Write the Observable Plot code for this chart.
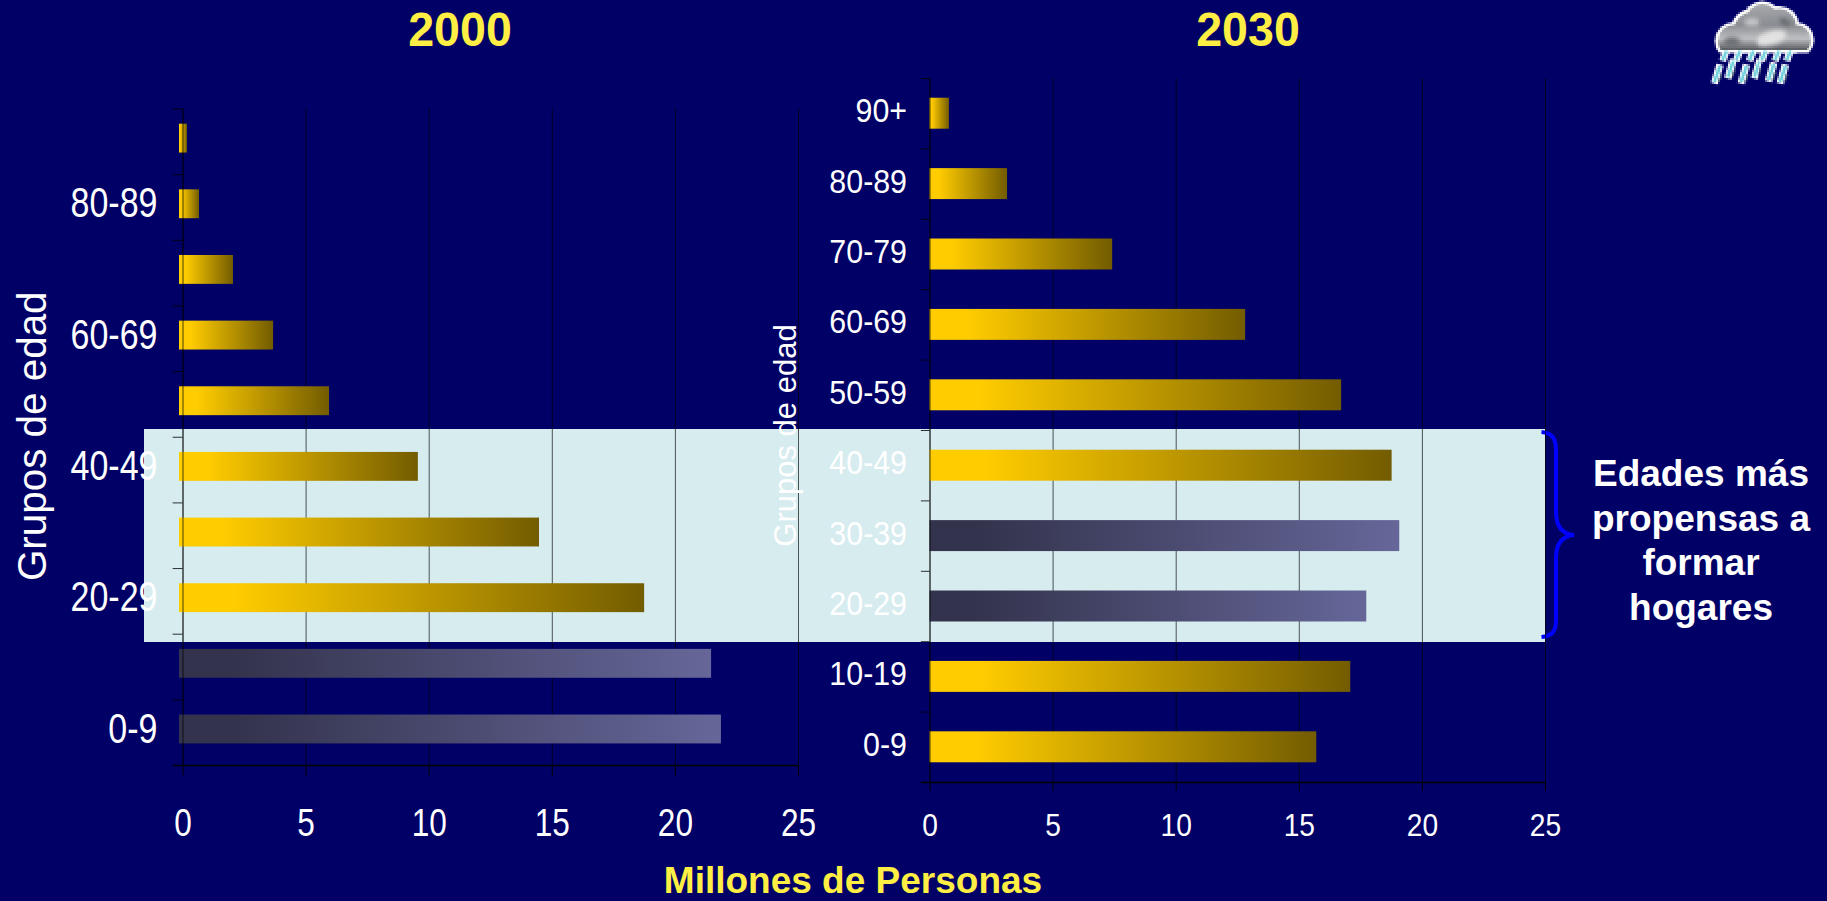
<!DOCTYPE html>
<html lang="es">
<head>
<meta charset="utf-8">
<title>Grupos de edad 2000 y 2030</title>
<script src="https://cdn.jsdelivr.net/npm/d3@7"></script>
<script src="https://cdn.jsdelivr.net/npm/@observablehq/plot@0.6"></script>
<style>
  html, body { margin: 0; padding: 0; background: #000066; }
  #page { position: relative; width: 1827px; height: 901px; overflow: hidden; background: #000066;
          font-family: "Liberation Sans", Arial, sans-serif; }
  #page > * { position: absolute; }
  #band { left: 144px; top: 429px; width: 1401px; height: 213px; background: #D6ECEF; }
  .heading { font-weight: bold; color: #FFEE44; white-space: nowrap; line-height: 1; transform: translateX(-50%) scaleX(.95); }
  #year2000 { left: 460px; top: 5px; font-size: 49px; }
  #year2030 { left: 1248px; top: 5px; font-size: 49px; }
  #xtitle { left: 853px; top: 866px; font-size: 37px; line-height: 30px; transform: translateX(-50%); }
  #note { left: 1551px; top: 452px; width: 300px; text-align: center; color: #fff; font-weight: bold;
          font-size: 37px; line-height: 44.6px; }
  #brace { left: 1530px; top: 420px; }
  #cloud { left: 1690px; top: 0; width: 137px; height: 100px; image-rendering: pixelated; }
</style>
</head>
<body>
<div id="page">
  <div id="band"></div>
  <div id="year2000" class="heading">2000</div>
  <div id="year2030" class="heading">2030</div>
  <div id="xtitle" class="heading">Millones de Personas</div>
  <div id="note">Edades más<br>propensas a<br>formar<br>hogares</div>
  <svg id="brace" width="60" height="230" viewBox="1530 420 60 230">
    <path d="M1541.5 432 C1552 433 1556 438 1556 450 L1556 512 C1556 526 1562 534 1574 535 C1562 536 1556 544 1556 558 L1556 620 C1556 632 1552 636 1541.5 637"
          fill="none" stroke="#0000FF" stroke-width="4"/>
  </svg>
  <canvas id="cloud" width="69" height="50"></canvas>
</div>
<script>
// Population by age group, in millions of people
const ageGroups = ["90+", "80-89", "70-79", "60-69", "50-59", "40-49", "30-39", "20-29", "10-19", "0-9"];
const millions2000 = [0.18, 0.67, 2.05, 3.68, 5.95, 9.56, 14.48, 18.75, 21.47, 21.87];
const millions2030 = [0.79, 3.15, 7.42, 12.82, 16.72, 18.77, 19.08, 17.74, 17.09, 15.71];
// Cohorts picked out in the muted colour in each panel
const peak2000 = ["10-19", "0-9"];
const peak2030 = ["30-39", "20-29"];
// Age labels printed on each panel's axis
const ageLabels2000 = ["80-89", "60-69", "40-49", "20-29", "0-9"];
const ageLabels2030 = ageGroups;
const xTicks = [0, 5, 10, 15, 20, 25];
const FONT = '"Liberation Sans", Arial, sans-serif';

function gradient(id, stops) {
  const ns = "http://www.w3.org/2000/svg";
  const g = document.createElementNS(ns, "linearGradient");
  g.setAttribute("id", id);
  for (const [offset, color] of stops) {
    const s = document.createElementNS(ns, "stop");
    s.setAttribute("offset", offset);
    s.setAttribute("stop-color", color);
    g.appendChild(s);
  }
  return g;
}

// Each bar fades from left to right across its own length
function barGradients() {
  const defs = document.createElementNS("http://www.w3.org/2000/svg", "defs");
  defs.appendChild(gradient("gold", [[0, "#FFCC00"], [0.12, "#FFCC00"], [1, "#735C00"]]));
  defs.appendChild(gradient("slate", [[0, "#33334D"], [0.1, "#33334D"], [1, "#666699"]]));
  return defs;
}

function panel(o) {
  const rows = ageGroups.map((age, i) => ({age, value: o.values[i]}));
  const isPeak = d => o.peak.includes(d.age);
  const step = (o.height - o.marginTop - o.marginBottom) / ageGroups.length;
  const bars = {x1: 0, x2: "value", y: "age", insetLeft: o.barInset, dy: o.barShift};
  const svg = Plot.plot({
    width: o.width, height: o.height,
    marginLeft: o.marginLeft, marginRight: o.marginRight,
    marginTop: o.marginTop, marginBottom: o.marginBottom,
    style: {background: "transparent", fontFamily: FONT, overflow: "visible"},
    x: {domain: [0, 25]},
    y: {domain: ageGroups, paddingInner: 0.56, paddingOuter: 0.28, round: false},
    marks: [
      barGradients,
      Plot.ruleX(xTicks, {stroke: "black", strokeOpacity: 0.65}),
      Plot.barX(rows.filter(d => !isPeak(d)), {...bars, fill: "url(#gold)"}),
      Plot.barX(rows.filter(isPeak), {...bars, fill: "url(#slate)"}),
      Plot.ruleX([0], {stroke: "black", strokeOpacity: 0.7}),
      // Tick marks sit on the boundaries between age groups
      Plot.ruleY(ageGroups, {y: d => d, x1: -o.tick, x2: 0, dy: -step / 2, stroke: "black", strokeOpacity: 0.8}),
      Plot.ruleY(ageGroups.slice(-1), {y: d => d, x1: -o.tick, x2: 25, dy: step / 2, stroke: "black", strokeWidth: 1.5}),
      Plot.axisX({ticks: xTicks, tickSize: o.xTickSize, stroke: "black", text: null, label: null}),
      Plot.axisX({ticks: xTicks, tickSize: 0, tickPadding: o.xPadding, fill: "white", fontSize: o.xFont, label: null}),
      Plot.axisY({ticks: o.labels, tickSize: 0, tickPadding: o.yPadding, fill: "white", fontSize: o.yFont, dy: o.labelShift, label: null}),
      Plot.text(["Grupos de edad"], {
        text: d => d, frameAnchor: "left", textAnchor: "middle", rotate: -90, lineAnchor: "bottom",
        dx: o.titleDx, dy: o.titleDy, fill: "white", fontSize: o.titleFont
      })
    ]
  });
  svg.style.left = o.left + "px";
  svg.style.top = "0px";
  svg.style.maxWidth = "none";
  document.getElementById("page").appendChild(svg);

  // Narrow the lettering to each panel's proportions
  svg.querySelectorAll('[aria-label="x-axis tick label"] text').forEach(t => narrow(t, o.xRatio));
  svg.querySelectorAll('[aria-label="y-axis tick label"] text').forEach(t => narrow(t, o.yRatio));
  svg.querySelectorAll('g[aria-label="text"] text').forEach(t => narrow(t, o.titleRatio));
}

function narrow(t, ratio) {
  const len = t.getComputedTextLength();
  t.setAttribute("textLength", len * ratio);
  t.setAttribute("lengthAdjust", "spacingAndGlyphs");
}

panel({
  values: millions2000, peak: peak2000, labels: ageLabels2000,
  left: 0, width: 840, height: 901,
  marginLeft: 182.5, marginRight: 42, marginTop: 108.5, marginBottom: 136,
  barInset: -3.5, barShift: -3.2, labelShift: -3.5, tick: 0.4,
  xTickSize: 10.5, xPadding: 43, xFont: 39, yPadding: 25.5, yFont: 42,
  titleDx: -137, titleDy: -1, titleFont: 41, xRatio: 0.81, yRatio: 0.81, titleRatio: 0.985
});
panel({
  values: millions2030, peak: peak2030, labels: ageLabels2030,
  left: 760, width: 840, height: 901,
  marginLeft: 169.5, marginRight: 55, marginTop: 78, marginBottom: 119,
  barInset: 0, barShift: 0, labelShift: -2, tick: 0.35,
  xTickSize: 8.7, xPadding: 31, xFont: 32, yPadding: 23, yFont: 33, 
  titleDx: -134.5, titleDy: 5, titleFont: 31, xRatio: 0.88, yRatio: 0.92, titleRatio: 1
});

// Small rain-cloud icon, drawn at low resolution
(function () {
  const c = document.getElementById("cloud").getContext("2d");
  const lumps = [[22, 20.5, 8], [31, 15, 9], [36.5, 10.5, 8.5], [45, 13, 8.5], [53.5, 20, 7.5]];
  const rainTop = [18.3, 25, 31.7, 38.3, 45, 50.8];
  const rainLow = [[15, 33], [21.7, 30.5], [28.3, 33], [35, 30.5], [42.5, 32], [48.3, 33]];
  const stroke = (x, y1, y2, lean, w, color) => {
    c.strokeStyle = color; c.lineWidth = w; c.lineCap = "butt";
    c.beginPath(); c.moveTo(x, y1); c.lineTo(x - lean, y2); c.stroke();
  };
  const blob = (grow, fill) => {
    c.save();
    c.beginPath(); c.rect(0, 0, 69, 25 + grow); c.clip();
    c.fillStyle = fill;
    for (const [x, y, r] of lumps) { c.beginPath(); c.arc(x, y, r + grow, 0, 7); c.fill(); }
    c.fillRect(22, 18, 32, 10);
    c.restore();
  };
  blob(1.6, "#ffffff");
  for (const x of rainTop) stroke(x, 25, 30.5, 2, 3.6, "#ffffff");
  for (const [x, y] of rainLow) stroke(x, y - 0.7, y + 8.7, 2.8, 3.6, "#ffffff");
  const shade = c.createLinearGradient(0, 2, 0, 25);
  shade.addColorStop(0, "#a8aaae");
  shade.addColorStop(0.45, "#8a8d92");
  shade.addColorStop(0.75, "#bfc0c3");
  shade.addColorStop(1, "#55595e");
  blob(0, shade);
  c.filter = "blur(1px)";
  c.fillStyle = "#e2e2e2";
  c.beginPath(); c.ellipse(41, 19, 8, 3.5, -0.3, 0, 7); c.fill();
  c.fillStyle = "#c4c5c8";
  c.beginPath(); c.ellipse(31, 11, 4, 2, 0, 0, 7); c.fill();
  c.fillStyle = "#63666b";
  c.beginPath(); c.ellipse(48, 11, 3, 1.5, 0.5, 0, 7); c.fill();
  c.fillStyle = "#6d7075";
  c.beginPath(); c.ellipse(21, 21, 4, 2.5, 0, 0, 7); c.fill();
  c.filter = "none";
  for (const x of rainTop) stroke(x, 25.5, 30, 2, 1.7, "#6fd0dc");
  for (const [x, y] of rainLow) {
    stroke(x, y, y + 8, 2.8, 1.7, "#6fd0dc");
    stroke(x + 0.8, y + 4, y + 8, 1.4, 0.8, "#59707a");
  }
})();
</script>
</body>
</html>
